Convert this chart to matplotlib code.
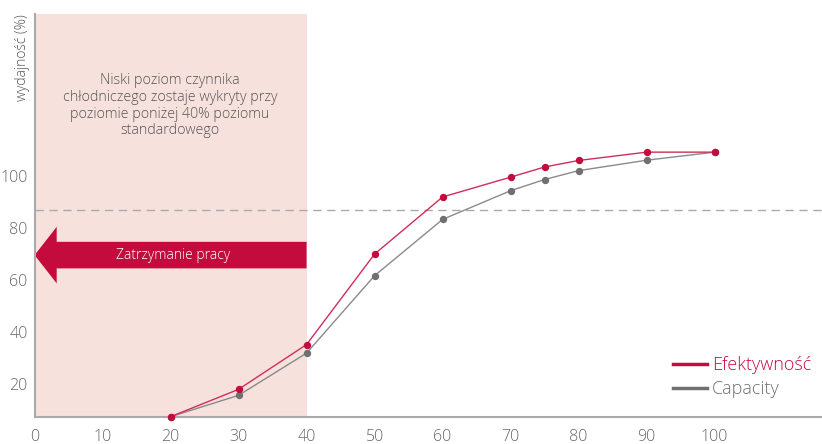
import matplotlib
matplotlib.use("Agg")
import matplotlib.pyplot as plt
from matplotlib.patches import FancyArrow
from matplotlib.lines import Line2D

# Data
x_vals = [20, 30, 40, 50, 60, 70, 75, 80, 90, 100]
efektywnosc = [7.5, 18.0, 35.2, 69.9, 91.8, 99.4, 103.3, 105.8, 109.0, 109.0]
capacity = [7.5, 15.7, 31.9, 61.6, 83.2, 94.2, 98.5, 101.9, 105.9, 109.0]
x_ticks = [0, 10, 20, 30, 40, 50, 60, 70, 80, 90, 100]
y_ticks = [20, 40, 60, 80, 100]
threshold = 86.7
shade_end = 40
series_labels = ["Efektywność", "Capacity"]
ylabel = "wydajność (%)"
note = "Niski poziom czynnika\nchłodniczego zostaje wykryty przy\npoziomie poniżej 40% poziomu\nstandardowego"
arrow_label = "Zatrzymanie pracy"

RED = "#c40b3e"
GRAY = "#707070"
TXT = "#666666"

plt.rcParams['font.family'] = ['Open Sans', 'DejaVu Sans']
plt.rcParams['font.weight'] = 300

fig = plt.figure(figsize=(8.22, 4.44), dpi=100)
ax = fig.add_axes([34.6/822, (444-416.7)/444, 1 - 34.6/822, (416.7-14)/444])
ax.set_xlim(0, 115.8)
ax.set_ylim(7.5, 162)

ax.axvspan(0, shade_end, color="#f6e1dd", zorder=0, lw=0)
ax.axhline(threshold, color="#aaaaaa", lw=1, ls=(0, (6, 4)), zorder=1)

ax.plot(x_vals, capacity, color="#8a8a8a", lw=1, marker="o", ms=4.3,
        mfc=GRAY, mec=GRAY, zorder=3, clip_on=False)
ax.plot(x_vals, efektywnosc, color="#cf2e5a", lw=1, marker="o", ms=4.3,
        mfc=RED, mec=RED, zorder=4, clip_on=False)

# legend
handles = [Line2D([0], [0], color=RED, lw=2.5), Line2D([0], [0], color=GRAY, lw=2.5)]
leg = ax.legend(handles, series_labels, loc="upper left",
                bbox_to_anchor=(673/822, (444-356)/444), bbox_transform=fig.transFigure,
                frameon=False, fontsize=13, handlelength=1.9, handletextpad=0.25,
                labelspacing=0.35, borderpad=0, borderaxespad=0)
for t, c in zip(leg.get_texts(), [RED, GRAY]):
    t.set_color(c)

# arrow
arrow_y = 69.5
ax.add_patch(FancyArrow(shade_end, arrow_y, -shade_end, 0, width=10.2,
                        head_width=21.7, head_length=3.25, length_includes_head=True,
                        color=RED, lw=0, zorder=2))
ax.text(20.3, arrow_y, arrow_label, color="white", fontsize=10,
        ha="center", va="center", zorder=3)

ax.text(19.9, 126.8, note, color="#555555", fontsize=10.3, ha="center", va="center",
        linespacing=1.15)

ax.set_xticks(x_ticks)
ax.set_yticks(y_ticks)
ax.tick_params(length=0, labelsize=11.5, labelcolor=TXT)
ax.tick_params(axis="y", pad=5)
ax.tick_params(axis="x", pad=9)
for s in ["top", "right"]:
    ax.spines[s].set_visible(False)
for s in ["left", "bottom"]:
    ax.spines[s].set_color("#aaaaaa")
    ax.spines[s].set_linewidth(1.5)

fig.text(22/822, 1 - 14/444, ylabel, rotation=90, ha="center", va="top",
         color="#555555", fontsize=10)

fig.savefig("out.png", dpi=100)
